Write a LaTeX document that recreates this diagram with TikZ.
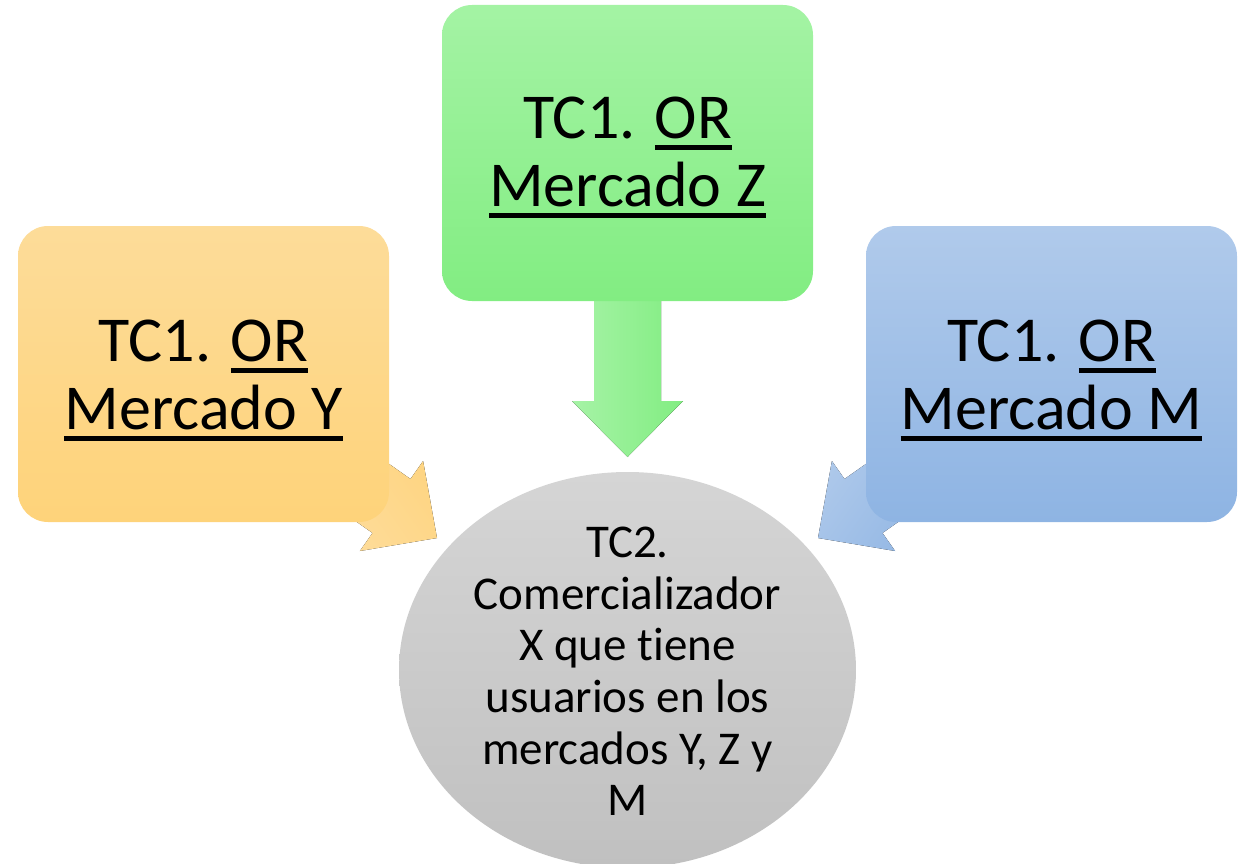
\documentclass[tikz,border=0pt]{standalone}
\usepackage{fontspec}
\usetikzlibrary{shapes.geometric}
\setmainfont{Carlito}[Ligatures={NoCommon}]
\definecolor{orTop}{RGB}{253,220,153}
\definecolor{orBot}{RGB}{254,211,122}
\definecolor{orArL}{RGB}{254,222,160}
\definecolor{orArR}{RGB}{254,212,128}
\definecolor{grTop}{RGB}{164,243,164}
\definecolor{grBot}{RGB}{130,237,130}
\definecolor{grArL}{RGB}{166,243,166}
\definecolor{grArR}{RGB}{130,237,130}
\definecolor{blTop}{RGB}{176,202,235}
\definecolor{blBot}{RGB}{142,180,227}
\definecolor{blArL}{RGB}{176,202,235}
\definecolor{blArR}{RGB}{142,180,227}
\definecolor{gyTop}{RGB}{213,213,213}
\definecolor{gyBot}{RGB}{192,192,192}
\newcommand\ulx[1]{\setbox0\hbox{#1}\rlap{\rule[-11.5pt]{\wd0}{5pt}}\box0}
\tikzset{
  box/.style={rectangle, rounded corners=30pt, minimum width=371pt, minimum height=296pt, inner sep=0pt, draw=none},
  bigtxt/.style={anchor=base, inner sep=0pt, font=\fontsize{64}{68}\selectfont},
}
\begin{document}
\begin{tikzpicture}[x=1pt,y=-1pt]
\useasboundingbox (0,0) rectangle (1243,864);
% arrows (behind the boxes)
\fill[left color=orArL, right color=orArR, shading angle=125]
  (282.5,469.7) -- (372.5,533) -- (359.9,551) -- (437,538) -- (423.1,461) -- (410.5,479) -- (320.5,415.7) -- cycle;
\fill[left color=blArL, right color=blArR, shading angle=55]
  (972.5,469.7) -- (882.5,533) -- (895.1,551) -- (818,538) -- (831.9,461) -- (844.5,479) -- (934.5,415.7) -- cycle;
\fill[left color=grArL, right color=grArR]
  (594,250) -- (594,401) -- (572,401) -- (627.5,457) -- (683,401) -- (661,401) -- (661,250) -- cycle;
% boxes
\node[box, top color=orTop, bottom color=orBot] (y) at (203.5,374) {};
\node[box, top color=grTop, bottom color=grBot] (z) at (627.5,153) {};
\node[box, top color=blTop, bottom color=blBot] (m) at (1051.5,374) {};
\node[ellipse, minimum width=457pt, minimum height=396pt, inner sep=0pt, top color=gyTop, bottom color=gyBot] (tc2) at (627.5,670) {};
% texts
\node[bigtxt] (y1) at (203.5,361) {TC1. \ulx{OR}};
\node[bigtxt] (y2) at (203.5,429) {\ulx{Mercado Y}};
\node[bigtxt] (z1) at (627.5,139) {TC1. \ulx{OR}};
\node[bigtxt] (z2) at (627.5,207) {\ulx{Mercado Z}};
\node[bigtxt] (m1) at (1051.5,361) {TC1. \ulx{OR}};
\node[bigtxt] (m2) at (1051.5,429) {\ulx{Mercado M}};
\node[anchor=north, inner sep=0pt, align=center, font=\fontsize{47}{51.6}\selectfont] (tc2t) at (627.5,527)
  {TC2.\\Comercializador\\X que tiene\\usuarios en los\\mercados Y, Z y\\M};
\end{tikzpicture}
\end{document}
